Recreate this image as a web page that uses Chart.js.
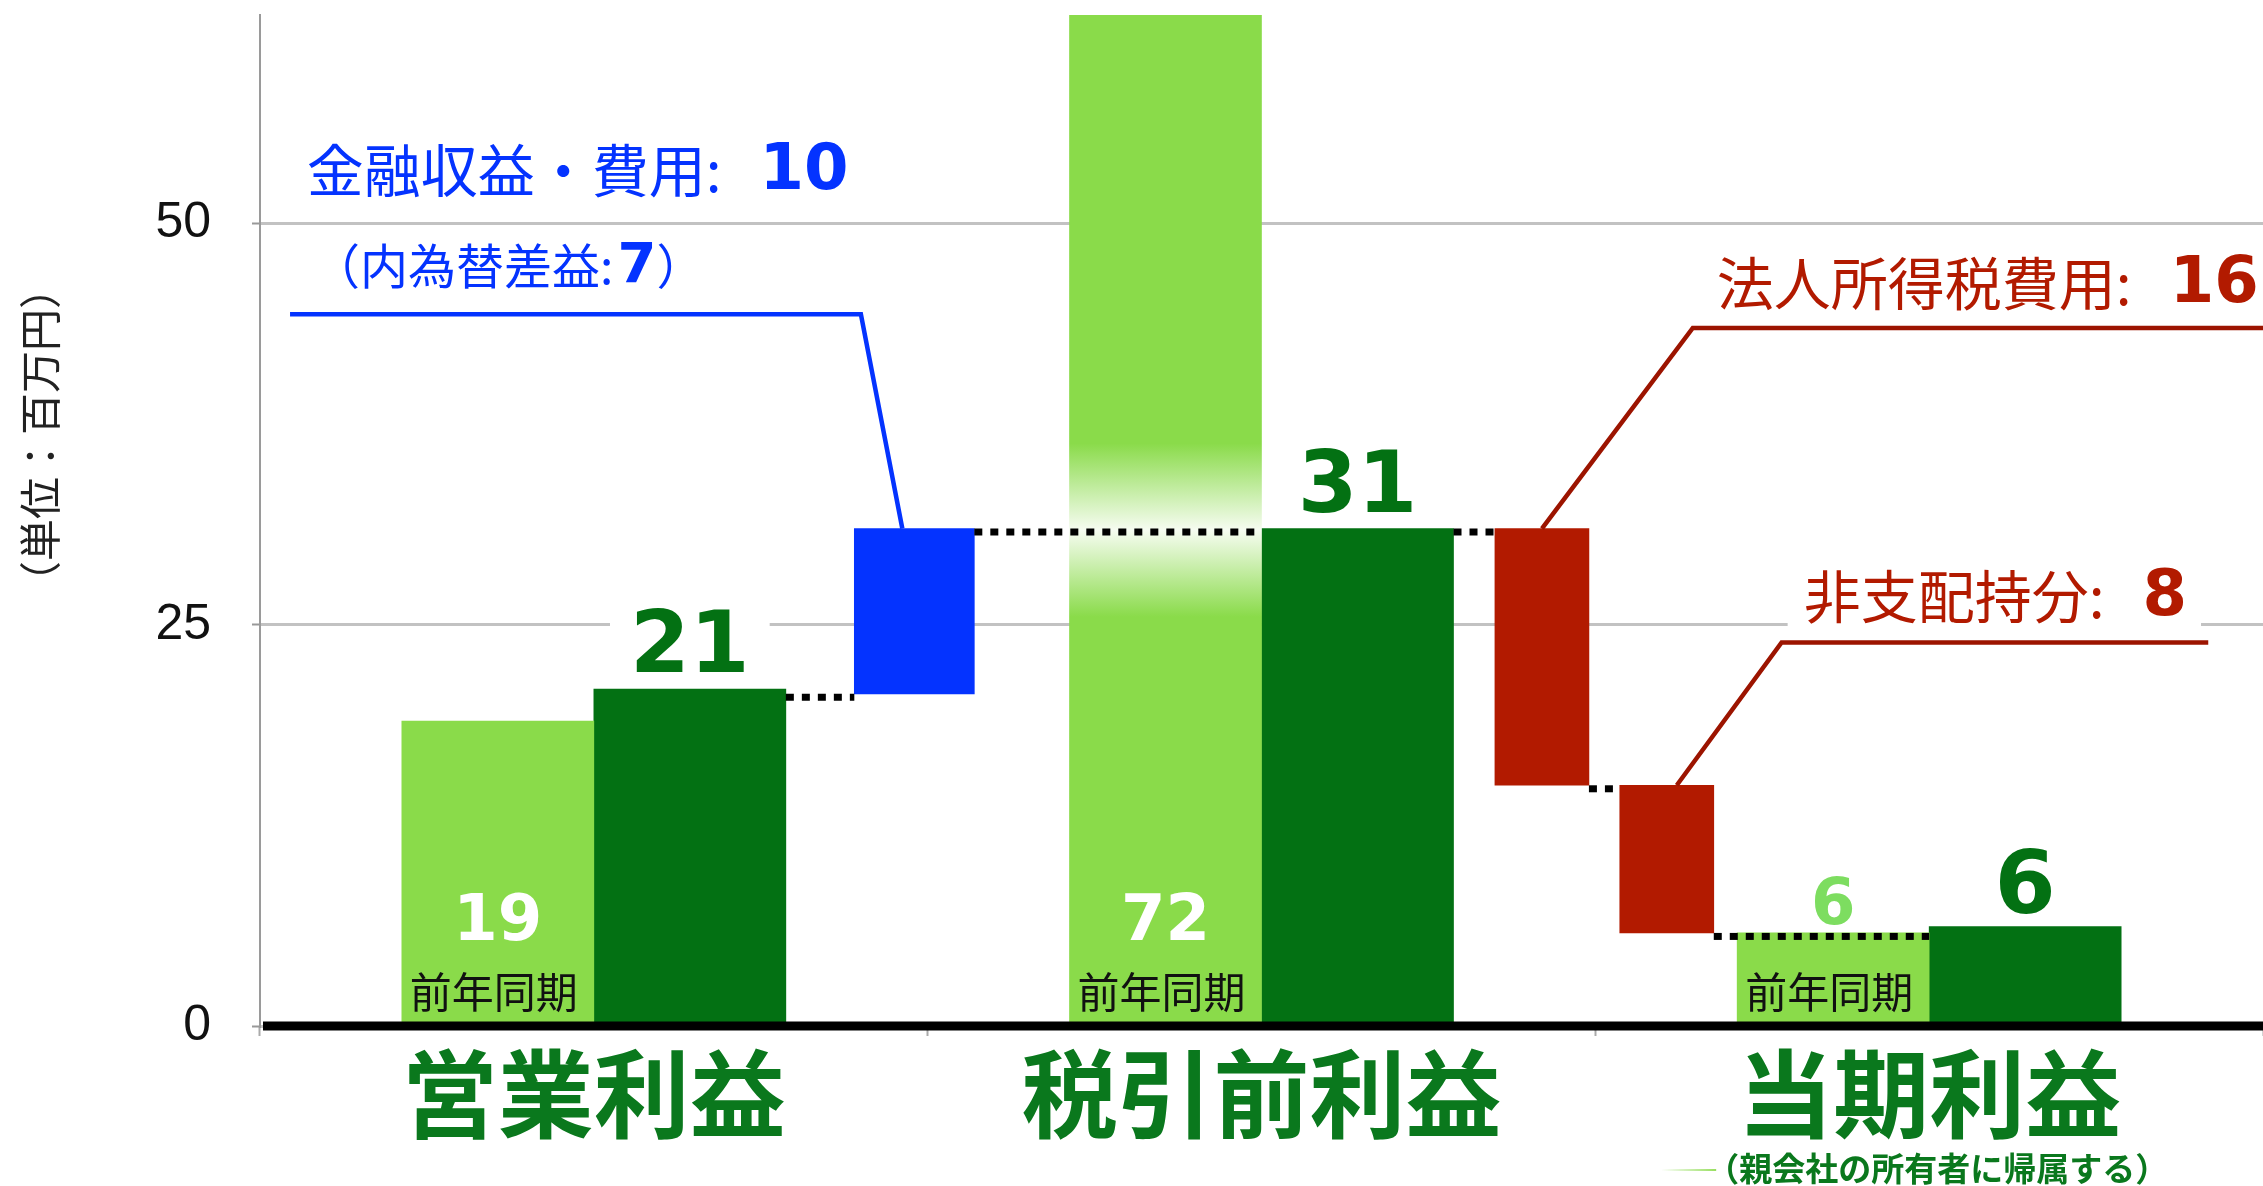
<!DOCTYPE html>
<html lang="ja">
<head>
<meta charset="utf-8">
<title>営業利益・税引前利益・当期利益</title>
<script src="https://cdn.jsdelivr.net/npm/chart.js@4.4.1/dist/chart.umd.min.js"></script>
<style>
  html, body { margin: 0; padding: 0; background: #fff; }
  #wrap { width: 2263px; height: 1186px; }
</style>
</head>
<body>
<div id="wrap"><canvas id="chart"></canvas></div>
<script>
// ---- データ（単位：百万円） ----
const categories = ['営業利益', '税引前利益', '当期利益'];
const subCaption = '（親会社の所有者に帰属する）';
const priorValues = [19, 72, 5.8];      // 前年同期
const currentValues = [21, 31, 6.2];    // 当期
const priorLabels = ['19', '72', '6'];
const currentLabels = ['21', '31', '6'];
const yTicks = [0, 25, 50];
const yMax = 63;

// 増減の内訳（ウォーターフォール）
const financeRange = [20.7, 31];        // 金融収益・費用
const financeAmount = 10;
const fxGain = 7;                       // 内為替差益
const deductionNames = ['法人所得税費用', '非支配持分'];
const deductionRanges = [[31, 15], [15, 5.8]];
const deductionAmounts = [16, 8];

// ---- 見た目 ----
const LIGHT = '#8adb4a', DARK = '#037113', BLUE = '#0433ff', RED = '#b21a00',
      RED_LINE = '#9c1400', LABEL_GREEN = '#0a781d', PALE_TEXT = '#7ddd60';
const JP = '"Noto Sans CJK JP", sans-serif';
const NUM = '"DejaVu Sans", Verdana, sans-serif';
// 棒の位置（x2軸、カテゴリ単位）
const pairShift = 0.1438;               // 前年同期／当期の棒の中心のずれ
const bridgeX = [0.98, 1.92, 2.107];    // 内訳の棒

function putText(ctx, str, x, y, font, color, align) {
  ctx.font = font;
  ctx.fillStyle = color;
  ctx.textAlign = align || 'center';
  ctx.textBaseline = 'middle';
  ctx.fillText(str, x, y);
  return ctx.measureText(str).width;
}

function polyline(ctx, pts, color, width, dash) {
  ctx.save();
  ctx.strokeStyle = color;
  ctx.lineWidth = width;
  ctx.lineJoin = 'miter';
  ctx.setLineDash(dash || []);
  ctx.beginPath();
  pts.forEach((p, i) => i ? ctx.lineTo(p[0], p[1]) : ctx.moveTo(p[0], p[1]));
  ctx.stroke();
  ctx.restore();
}

// 背景の白枠（グリッド線を隠す）
const backdrops = {
  id: 'backdrops',
  beforeDatasetsDraw(chart) {
    const { ctx, scales: { x2, y } } = chart;
    const cur = chart.getDatasetMeta(1).data;
    ctx.save();
    ctx.fillStyle = '#fff';
    cur.forEach((el, i) => {
      ctx.font = 'bold 86px ' + NUM;
      const w = ctx.measureText(currentLabels[i]).width + 40;
      ctx.fillRect(el.x - w / 2, el.y - 82, w, 78);
    });
    // 非支配持分のラベル
    ctx.font = '57px ' + JP;
    const lx = x2.getPixelForValue(2.312), ly = y.getPixelForValue(26.8);
    let w = ctx.measureText(deductionNames[1] + ':').width + 38;
    ctx.font = 'bold 64px ' + NUM;
    w += ctx.measureText(String(deductionAmounts[1])).width;
    ctx.fillRect(lx - 16, ly - 30, w + 30, 66);
    ctx.restore();
  }
};

const annotations = {
  id: 'annotations',
  afterDatasetsDraw(chart) {
    const { ctx, chartArea, scales: { x2, y } } = chart;
    const prior = chart.getDatasetMeta(0).data;
    const cur = chart.getDatasetMeta(1).data;
    const fin = chart.getDatasetMeta(2).data[0];
    const ded = chart.getDatasetMeta(3).data;

    // ゼロの太線
    polyline(ctx, [[chartArea.left + 3, y.getPixelForValue(0)], [chartArea.right, y.getPixelForValue(0)]], '#000', 9);

    // 点線のつなぎ
    const links = [
      [cur[0], fin, financeRange[0]],
      [fin, cur[1], financeRange[1]],
      [cur[1], ded[0], deductionRanges[0][0]],
      [ded[0], ded[1], deductionRanges[0][1]],
      [ded[1], cur[2], deductionRanges[1][1]]
    ];
    links.forEach(([a, b, level]) => {
      const py = y.getPixelForValue(level) + 3.5;
      polyline(ctx, [[a.x + a.width / 2, py], [b.x - b.width / 2, py]], '#000', 7, [8, 8]);
    });

    // 引き出し線
    polyline(ctx, [
      [x2.getPixelForValue(0.045), y.getPixelForValue(44.35)],
      [x2.getPixelForValue(0.90), y.getPixelForValue(44.35)],
      [fin.x - 12, y.getPixelForValue(financeRange[1])]
    ], BLUE, 4.5);
    polyline(ctx, [
      [ded[0].x, y.getPixelForValue(deductionRanges[0][0])],
      [x2.getPixelForValue(2.146), y.getPixelForValue(43.5)],
      [chartArea.right, y.getPixelForValue(43.5)]
    ], RED_LINE, 4.5);
    polyline(ctx, [
      [ded[1].x + 10, y.getPixelForValue(deductionRanges[1][0])],
      [x2.getPixelForValue(2.279), y.getPixelForValue(23.9)],
      [x2.getPixelForValue(2.918), y.getPixelForValue(23.9)]
    ], RED_LINE, 4.5);

    // 内訳のラベル
    let lx = x2.getPixelForValue(0.07), ly = y.getPixelForValue(53.3);
    lx += putText(ctx, '金融収益・費用:', lx, ly, '57px ' + JP, BLUE, 'left') + 38;
    putText(ctx, String(financeAmount), lx, ly + 2, 'bold 64px ' + NUM, BLUE, 'left');

    lx = x2.getPixelForValue(0.078); ly = y.getPixelForValue(47.4);
    lx += putText(ctx, '（内為替差益:', lx, ly, '48px ' + JP, BLUE, 'left') + 4;
    lx += putText(ctx, String(fxGain), lx, ly + 2, 'bold 56px ' + NUM, BLUE, 'left');
    putText(ctx, '）', lx, ly, '48px ' + JP, BLUE, 'left');

    lx = x2.getPixelForValue(2.182); ly = y.getPixelForValue(46.3);
    lx += putText(ctx, deductionNames[0] + ':', lx, ly, '57px ' + JP, RED, 'left') + 38;
    putText(ctx, String(deductionAmounts[0]), lx, ly + 2, 'bold 64px ' + NUM, RED, 'left');

    lx = x2.getPixelForValue(2.312); ly = y.getPixelForValue(26.8);
    lx += putText(ctx, deductionNames[1] + ':', lx, ly, '57px ' + JP, RED, 'left') + 38;
    putText(ctx, String(deductionAmounts[1]), lx, ly + 2, 'bold 64px ' + NUM, RED, 'left');

    // 前年同期の数値
    prior.forEach((el, i) => {
      if (i < 2) {
        putText(ctx, priorLabels[i], el.x, el.base - 101, 'bold 64px ' + NUM, '#fff');
      } else {
        putText(ctx, priorLabels[i], el.x, el.y - 26, 'bold 64px ' + NUM, PALE_TEXT);
      }
      putText(ctx, '前年同期', el.x - 4, el.base - 32, '42px ' + JP, '#111');
    });
    // 当期の数値
    cur.forEach((el, i) => {
      putText(ctx, currentLabels[i], el.x, el.y - (i === 2 ? 36 : 39), 'bold ' + (i === 2 ? 88 : 86) + 'px ' + NUM, DARK);
    });
  },
  afterDraw(chart) {
    const { ctx, chartArea, scales: { x } } = chart;
    // 当期利益の注記
    const sx = x.getPixelForValue(2) + 8, sy = 1168;
    ctx.font = 'bold 33px ' + JP;
    const w = ctx.measureText(subCaption).width;
    const g = ctx.createLinearGradient(sx - w / 2 - 45, 0, sx - w / 2 + 10, 0);
    g.addColorStop(0, 'rgba(140,219,78,0)');
    g.addColorStop(1, 'rgba(140,219,78,0.9)');
    polyline(ctx, [[sx - w / 2 - 45, sy + 2], [sx - w / 2 + 10, sy + 2]], g, 2);
    putText(ctx, subCaption, sx, sy, 'bold 33px ' + JP, LABEL_GREEN);

    // 単位
    ctx.save();
    ctx.translate(40, chartArea.top + 420);
    ctx.rotate(-Math.PI / 2);
    putText(ctx, '（単位：百万円）', 0, 0, '42px ' + JP, '#222');
    ctx.restore();
  }
};

function priorFill(c) {
  if (c.dataIndex !== 1) return LIGHT;
  const chart = c.chart, y = chart.scales.y;
  if (!chart.chartArea || !y) return LIGHT;
  const level = currentValues[1];
  const g = chart.ctx.createLinearGradient(0, y.getPixelForValue(level + 5.3), 0, y.getPixelForValue(level - 5.5));
  g.addColorStop(0, LIGHT);
  g.addColorStop(0.5, '#f6fcf1');
  g.addColorStop(1, LIGHT);
  return g;
}

new Chart(document.getElementById('chart'), {
  type: 'bar',
  data: {
    labels: categories,
    datasets: [
      { label: '前年同期', data: priorValues.map((v, i) => ({ x: i + 0.5 - pairShift, y: v })), xAxisID: 'x2',
        backgroundColor: priorFill, barThickness: 192, maxBarThickness: 192, grouped: false },
      { label: '当期', data: currentValues.map((v, i) => ({ x: i + 0.5 + pairShift, y: v })), xAxisID: 'x2',
        backgroundColor: DARK, barThickness: 192, maxBarThickness: 192, grouped: false },
      { label: '金融収益・費用', data: [{ x: bridgeX[0], y: financeRange }], xAxisID: 'x2',
        backgroundColor: BLUE, barThickness: 120, maxBarThickness: 120, grouped: false },
      { label: '控除', data: deductionRanges.map((r, i) => ({ x: bridgeX[i + 1], y: r })), xAxisID: 'x2',
        backgroundColor: RED, barThickness: 94, maxBarThickness: 94, grouped: false }
    ]
  },
  options: {
    responsive: true,
    maintainAspectRatio: false,
    animation: false,
    devicePixelRatio: 1,
    layout: { padding: { top: 15, right: 0, left: 0, bottom: 0 } },
    plugins: { legend: { display: false }, tooltip: { enabled: false } },
    scales: {
      x: {
        type: 'category',
        labels: categories,
        offset: true,
        grid: { display: true, drawOnChartArea: false, offset: true, tickLength: 10, tickColor: '#aaa', tickWidth: 2 },
        border: { display: false },
        ticks: { color: LABEL_GREEN, padding: 0, font: { family: JP, size: 96, weight: 'bold' }, maxRotation: 0 },
        afterFit: s => { s.height = 160; s.paddingLeft = 0; s.paddingRight = 0; }
      },
      x2: {
        type: 'linear', axis: 'x', position: 'bottom', display: false,
        min: 0, max: 3, offset: false
      },
      y: {
        min: 0, max: yMax, stacked: false,
        afterBuildTicks: axis => { axis.ticks = yTicks.map(v => ({ value: v })); },
        grid: { color: '#c2c2c2', lineWidth: 3, tickLength: 8, tickColor: '#999', tickWidth: 2 },
        border: { color: '#9a9a9a', width: 2 },
        ticks: { color: '#111', padding: 41, font: { family: '"Liberation Sans", Arial, sans-serif', size: 50 } },
        afterFit: s => { s.width = 260; s.paddingTop = 0; s.paddingBottom = 0; }
      }
    }
  },
  plugins: [backdrops, annotations]
});
</script>
</body>
</html>
